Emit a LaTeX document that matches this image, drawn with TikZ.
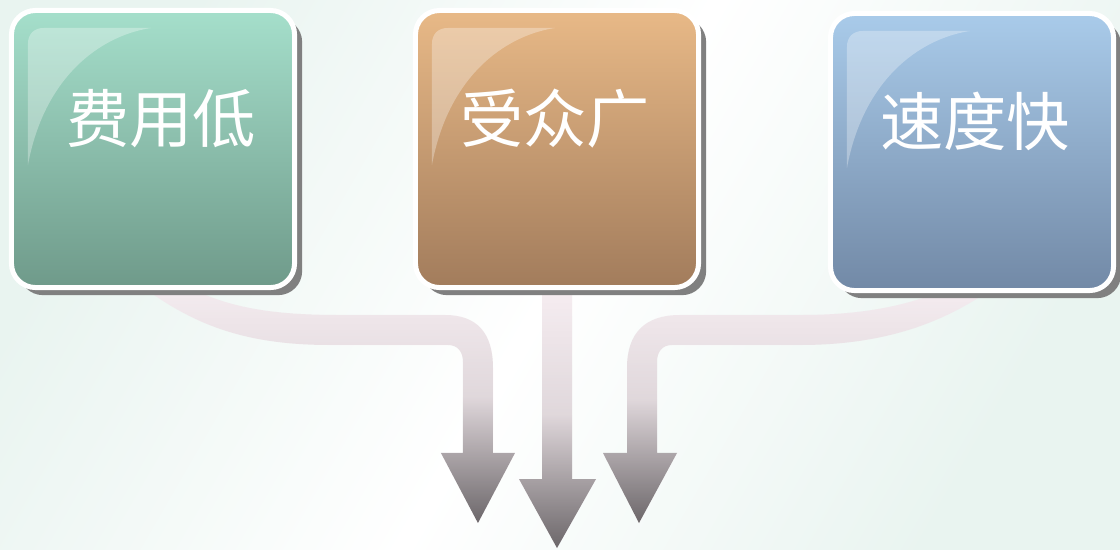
\documentclass[tikz,border=0pt]{standalone}
\usepackage{fontspec}
\newfontfamily\cjk{Noto Sans CJK SC}
\usepackage{tikz}
\usetikzlibrary{positioning, shadows, fadings}
\pgfdeclarelayer{background}
\pgfsetlayers{background,main}

\definecolor{costtop}{HTML}{A5DFCB}
\definecolor{costbot}{HTML}{6F9A8A}
\definecolor{reachtop}{HTML}{E8B987}
\definecolor{reachbot}{HTML}{A27C5C}
\definecolor{speedtop}{HTML}{A9CBEA}
\definecolor{speedbot}{HTML}{7289A6}
\definecolor{arrowtop}{HTML}{F8EFF3}
\definecolor{arrowbot}{HTML}{6C676A}
\definecolor{bgmint}{HTML}{E9F4F0}

\tikzfading[name=arrowfade, top color=transparent!100, bottom color=transparent!0, middle color=transparent!83]

\begin{document}
\begin{tikzpicture}[x=0.025cm, y=-0.025cm]
        % styles %
        \tikzstyle{tile} = [rectangle, rounded corners=0.6cm, draw=white, line width=0.125cm, minimum width=7.075cm, minimum height=6.925cm, drop shadow={shadow xshift=0.19cm, shadow yshift=-0.19cm, fill=black!50, opacity=1}];
        \tikzstyle{tiletext} = [text=white, font=\cjk\fontsize{45}{50}\selectfont];
        \tikzstyle{gloss} = [fill=white, fill opacity=0.3];
        \tikzstyle{flowarrow} = [draw=none, fill=arrowtop, postaction={fill=arrowbot, path fading=arrowfade}];
        \tikzstyle{backdrop} = [top color=bgmint, bottom color=bgmint, middle color=white, shading angle=60];

        \useasboundingbox (0,0) rectangle (1120,549);

        % nodes %
        \node [tile, top color=costtop, bottom color=costbot] (cost) at (153,149) {};
        \node [tile, top color=reachtop, bottom color=reachbot] (reach) at (557,149) {};
        \node [tile, top color=speedtop, bottom color=speedbot] (speed) at (972,152) {};

        \foreach \b in {cost, reach, speed}
            \fill [gloss, shift={(\b.north west)}] (19,157) -- (19,36) .. controls (19,26) and (25,20) .. (35,20) -- (142,20) .. controls (90,28) and (35,70) .. (19,157) -- cycle;

        \node [tiletext] (costtxt) at ([xshift=0.2cm, yshift=0.75cm]cost.center) {费用低};
        \node [tiletext] (reachtxt) at ([xshift=-0.05cm, yshift=0.77cm]reach.center) {受众广};
        \node [tiletext] (speedtxt) at ([xshift=0.075cm, yshift=0.77cm]speed.center) {速度快};

        % arrows %
        \begin{pgfonlayer}{background}
        \shade [backdrop] (0,0) rectangle (1120,549);
        \fill [flowarrow] (160,270) .. controls (210,305) and (260,315) .. (340,315) -- (445,315)
              .. controls (477,315) and (493,333) .. (493,368) -- (493,453) -- (515,453) -- (478,523)
              -- (441,453) -- (463,453) -- (463,362) .. controls (463,352) and (458,345) .. (448,345)
              -- (330,345) .. controls (240,345) and (190,322) .. (140,285) -- cycle;
        \fill [flowarrow] (542,280) -- (572,280) -- (572,479) -- (596,479) -- (557,548) -- (519,479) -- (542,479) -- cycle;
        \fill [flowarrow] (627,453) -- (627,368) .. controls (627,333) and (645,315) .. (680,315) -- (800,315)
              .. controls (880,315) and (930,300) .. (975,275) -- (990,290) .. controls (940,325) and (880,345) .. (800,345)
              -- (672,345) .. controls (662,345) and (657,352) .. (657,362) -- (657,453) -- (677,453) -- (639,523)
              -- (603,453) -- cycle;
        \end{pgfonlayer}
\end{tikzpicture}
\end{document}
